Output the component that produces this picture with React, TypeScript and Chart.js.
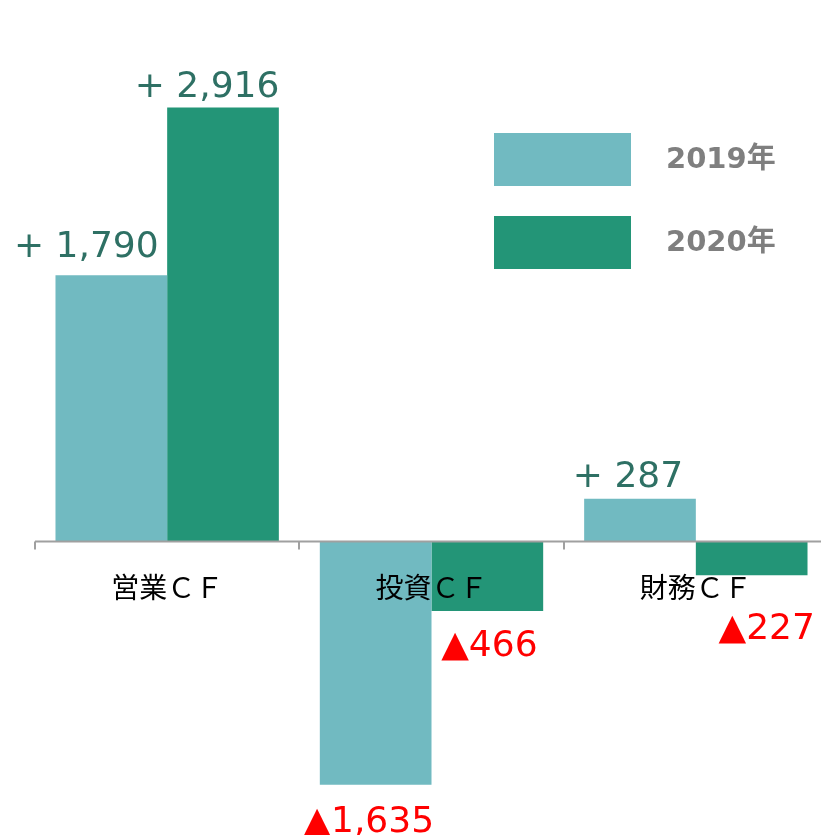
import React, { useEffect, useRef } from "react";
import { Chart, registerables } from "chart.js";

Chart.register(...registerables);

// ---- data ----
const categories = ["営業ＣＦ", "投資ＣＦ", "財務ＣＦ"];
const seriesNames = ["2019年", "2020年"];
const values2019 = [1790, -1635, 287];
const values2020 = [2916, -466, -227];

// ---- styles ----
const colors = ["#71BAC1", "#239577"];
const positiveLabelColor = "#2E7064";
const negativeLabelColor = "#FF0000";
const yMin = -1972;
const yMax = 3639;
// label nudges (px) relative to the bar end: [dx, dy]
const labelNudge2019 = [
  [-25, -18],
  [-7, 47],
  [-12, -12],
];
const labelNudge2020 = [
  [-16, -11],
  [2, 45],
  [15, 64],
];

const fmt = (v: number) =>
  v >= 0 ? "+ " + v.toLocaleString("en-US") : "▲" + Math.abs(v).toLocaleString("en-US");

const overlayPlugin = {
  id: "overlay",
  afterDatasetsDraw(chart: any) {
    const { ctx, chartArea, scales } = chart;
    const y0 = scales.y.getPixelForValue(0);
    const n = categories.length;
    const w = (chartArea.right - chartArea.left) / n;
    ctx.save();
    // axis line
    ctx.strokeStyle = "#A0A0A0";
    ctx.lineWidth = 2;
    ctx.beginPath();
    ctx.moveTo(chartArea.left, y0);
    ctx.lineTo(chartArea.right, y0);
    for (let k = 0; k <= n; k++) {
      const x = Math.round(chartArea.left + k * w);
      ctx.moveTo(x, y0);
      ctx.lineTo(x, y0 + 8);
    }
    ctx.stroke();

    // category labels
    ctx.fillStyle = "#000000";
    ctx.font = '28px "Noto Sans CJK JP"';
    ctx.textAlign = "center";
    ctx.textBaseline = "middle";
    categories.forEach((c, i) => {
      ctx.fillText(c, scales.x.getPixelForValue(i), y0 + 46);
    });

    // data labels
    const nudges = [labelNudge2019, labelNudge2020];
    ctx.font = '36px "DejaVu Sans"';
    ctx.textBaseline = "alphabetic";
    chart.data.datasets.forEach((ds: any, di: number) => {
      const meta = chart.getDatasetMeta(di);
      meta.data.forEach((el: any, i: number) => {
        const v = ds.data[i];
        ctx.fillStyle = v >= 0 ? positiveLabelColor : negativeLabelColor;
        ctx.fillText(fmt(v), el.x + nudges[di][i][0], el.y + nudges[di][i][1]);
      });
    });

    // legend
    ctx.textAlign = "left";
    ctx.textBaseline = "middle";
    ctx.font = 'bold 29px "DejaVu Sans", "Noto Sans CJK JP"';
    chart.data.datasets.forEach((ds: any, di: number) => {
      const top = 133 + di * 83;
      ctx.fillStyle = ds.backgroundColor;
      ctx.fillRect(494, top, 137, 53);
      ctx.fillStyle = "#7F7F7F";
      ctx.fillText(ds.label, 666, top + 27);
    });
    ctx.restore();
  },
};

export default function App() {
  const ref = useRef<HTMLCanvasElement>(null);
  useEffect(() => {
    if (!ref.current) return;
    const chart = new Chart(ref.current, {
      type: "bar",
      data: {
        labels: categories,
        datasets: [
          { label: seriesNames[0], data: values2019, backgroundColor: colors[0] },
          { label: seriesNames[1], data: values2020, backgroundColor: colors[1] },
        ],
      },
      options: {
        responsive: false,
        animation: false,
        devicePixelRatio: 1,
        layout: { padding: { left: 35, right: 12, top: 0, bottom: 0 } },
        datasets: { bar: { categoryPercentage: 0.845, barPercentage: 1 } },
        scales: {
          x: { display: false },
          y: { display: false, min: yMin, max: yMax },
        },
        plugins: { legend: { display: false }, tooltip: { enabled: false } },
      },
      plugins: [overlayPlugin],
    });
    return () => chart.destroy();
  }, []);
  return (
    <div
      style={{
        position: "absolute",
        left: 0,
        top: 0,
        width: 821,
        height: 835,
        overflow: "hidden",
        background: "#ffffff",
      }}
    >
      <canvas ref={ref} width={840} height={835} style={{ display: "block" }} />
    </div>
  );
}
